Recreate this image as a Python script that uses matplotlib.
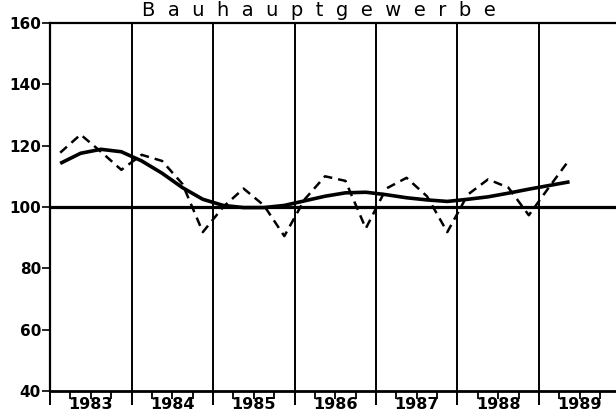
import matplotlib
matplotlib.use('Agg')
import matplotlib.pyplot as plt
import numpy as np

# quarterly values, 1983 Q1 .. 1989 Q2
years = [1983, 1984, 1985, 1986, 1987, 1988, 1989]
start_year = 1983
quarters_count = 26
original = [117.7, 123.6, 118.0, 112.1,
            117.0, 115.0, 107.5, 91.8,
            100.0, 106.0, 100.5, 90.5,
            102.5, 110.0, 108.5, 93.0,
            106.0, 109.5, 103.5, 91.8,
            104.0, 109.0, 106.3, 97.3,
            106.5, 115.5]
trend = [114.2, 117.5, 118.8, 118.0,
         115.0, 111.0, 106.3, 102.5,
         100.5, 99.8, 99.8, 100.5,
         102.0, 103.5, 104.6, 104.8,
         104.0, 103.0, 102.3, 101.8,
         102.5, 103.3, 104.5, 105.8,
         107.0, 108.2]
yticks = [40, 60, 80, 100, 120, 140, 160]
title = 'B  a  u  h  a  u  p  t  g  e  w  e  r  b  e'

t = start_year + (np.arange(quarters_count) + 0.5) / 4.0

fig = plt.figure(figsize=(6.16, 4.17), dpi=100)
ax = fig.add_axes([0.0812, 0.0624, 0.9188, 0.8826])

ax.set_xlim(1983, 1989.945)
ax.set_ylim(40, 160)

# year separators and the 100 line
for y in years[1:]:
    ax.axvline(y, color='black', lw=1.4, zorder=1)
ax.axhline(100, color='black', lw=2.3, zorder=1)

ax.plot(t, trend, color='black', lw=2.6, solid_capstyle='butt', zorder=3)
ax.plot(t, original, color='black', lw=1.8, dashes=(3.6, 2.4), zorder=3)

ax.spines['right'].set_visible(False)
ax.spines['top'].set_linewidth(1.6)
ax.spines['bottom'].set_linewidth(2.0)
ax.spines['left'].set_linewidth(1.6)

ax.set_yticks(yticks)
ax.set_yticklabels([str(v) for v in yticks], fontsize=11, fontweight='bold')
ax.tick_params(axis='y', direction='out', length=5.5, width=1.2, pad=1)

ax.set_xticks(years)
ax.set_xticklabels([])
ax.set_xticks([y + q / 4.0 for y in years for q in (1, 2, 3)], minor=True)
ax.tick_params(axis='x', which='major', direction='out', length=10, width=1.4)
ax.tick_params(axis='x', which='minor', direction='out', length=6, width=1.3)

for y in years:
    ax.text(y + 0.5, -0.036, str(y), transform=ax.get_xaxis_transform(),
            ha='center', va='center', fontsize=11.5, fontweight='bold')

fig.text(0.518, 0.962, title, ha='center', va='baseline', fontsize=14)

fig.savefig('out.png', dpi=100)
